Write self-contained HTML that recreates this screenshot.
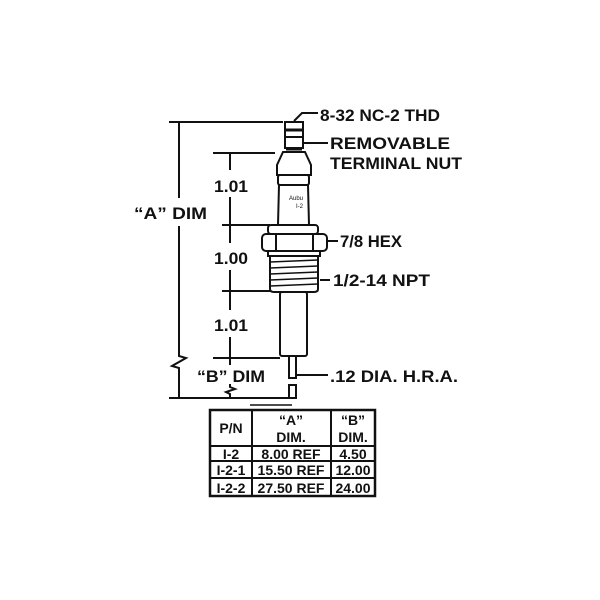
<!DOCTYPE html>
<html><head><style>body{margin:0;background:#fff}svg{display:block}text{font-family:"Liberation Sans",sans-serif;font-weight:bold;fill:#111}</style></head><body>
<svg width="600" height="600" viewBox="0 0 600 600" xmlns="http://www.w3.org/2000/svg">
<g stroke="#111" stroke-width="2" fill="none">
<line x1="169" y1="122" x2="283" y2="122"/>
<line x1="169" y1="398" x2="290" y2="398"/>
<line x1="179" y1="122" x2="179" y2="198"/>
<polyline points="179,226 179,356 186,358 172,366 179,368 179,398"/>
<line x1="213" y1="153" x2="275" y2="153"/>
<line x1="222" y1="225" x2="270" y2="225"/>
<line x1="222" y1="291" x2="270" y2="291"/>
<line x1="213" y1="358" x2="280" y2="358"/>
<line x1="230" y1="153" x2="230" y2="170"/><line x1="230" y1="197" x2="230" y2="243"/>
<line x1="230" y1="270" x2="230" y2="310"/><line x1="230" y1="337" x2="230" y2="365"/>
<polyline points="230,384 230,387 235,389 226,392 230,394 230,398"/>
<rect x="285" y="122" width="18" height="26" fill="#fff"/>
<line x1="286" y1="130" x2="302" y2="130" stroke-width="3"/>
<line x1="286" y1="137" x2="302" y2="137"/>
<line x1="286" y1="149" x2="302" y2="149" stroke-width="3"/>
<path d="M283 152 L305 152 L311 165 L311 175 L277 175 L277 165 Z" fill="#fff"/>
<rect x="278" y="175" width="31" height="10" rx="2"/>
<path d="M279 185 L308 185 L309 225 L278 225 Z"/>
<rect x="268" y="225" width="50" height="9" rx="3"/>
<rect x="262" y="234" width="65" height="17" rx="4"/>
<line x1="276" y1="234" x2="276" y2="251"/><line x1="313" y1="234" x2="313" y2="251"/>
<rect x="268" y="251" width="52" height="5"/>
<path d="M270 256 L318 256 L318 289 Q318 292 314 292 L274 292 Q270 292 270 289 Z"/>
<path d="M270 262 L318 260 M270 268 L318 266 M270 274 L318 272 M270 280 L318 278 M270 286 L318 284" stroke-width="1.5"/>
<rect x="280" y="292" width="27" height="64" rx="2"/>
<rect x="289" y="356" width="7" height="22"/>
<rect x="289" y="385" width="7" height="13"/>
<polyline points="294,121 302,113 318,113"/>
<line x1="304" y1="143" x2="328" y2="143"/>
<line x1="327" y1="241" x2="338" y2="241"/>
<line x1="320" y1="280" x2="330" y2="280"/>
<line x1="297" y1="375" x2="328" y2="375"/>
<rect x="210" y="410" width="165" height="86" stroke-width="2.5"/>
<line x1="252" y1="410" x2="252" y2="496"/>
<line x1="331" y1="410" x2="331" y2="496"/>
<line x1="210" y1="446" x2="375" y2="446"/>
<line x1="210" y1="461" x2="375" y2="461"/>
<line x1="210" y1="478" x2="375" y2="478"/>
<line x1="250" y1="405" x2="292" y2="405" stroke-width="1.5"/>
</g>
<g font-size="17">
<text x="320" y="121" textLength="120" lengthAdjust="spacingAndGlyphs">8-32 NC-2 THD</text>
<text x="330" y="149" textLength="120" lengthAdjust="spacingAndGlyphs">REMOVABLE</text>
<text x="330" y="169" textLength="132" lengthAdjust="spacingAndGlyphs">TERMINAL NUT</text>
<text x="340" y="247" textLength="62" lengthAdjust="spacingAndGlyphs">7/8 HEX</text>
<text x="333" y="286" textLength="97" lengthAdjust="spacingAndGlyphs">1/2-14 NPT</text>
<text x="330" y="382" textLength="128" lengthAdjust="spacingAndGlyphs">.12 DIA. H.R.A.</text>
<text x="214" y="192" textLength="34" lengthAdjust="spacingAndGlyphs">1.01</text>
<text x="214" y="264" textLength="34" lengthAdjust="spacingAndGlyphs">1.00</text>
<text x="214" y="331" textLength="34" lengthAdjust="spacingAndGlyphs">1.01</text>
<text x="134" y="219" textLength="73" lengthAdjust="spacingAndGlyphs">“A” DIM</text>
<text x="197" y="382" textLength="68" lengthAdjust="spacingAndGlyphs">“B” DIM</text>
</g>
<g font-size="14" text-anchor="middle">
<text x="231" y="433">P/N</text>
<text x="291" y="425">“A”</text><text x="291" y="442">DIM.</text>
<text x="353" y="425">“B”</text><text x="353" y="442">DIM.</text>
<text x="231" y="459">I-2</text><text x="291" y="459">8.00 REF</text><text x="353" y="459">4.50</text>
<text x="231" y="475">I-2-1</text><text x="291" y="475">15.50 REF</text><text x="353" y="475">12.00</text>
<text x="231" y="493">I-2-2</text><text x="291" y="493">27.50 REF</text><text x="353" y="493">24.00</text>
</g>
<g font-size="6"><text x="289" y="200" style="font-weight:normal">Aubu</text><text x="296" y="208" style="font-weight:normal">I-2</text></g>
</svg>
</body></html>
